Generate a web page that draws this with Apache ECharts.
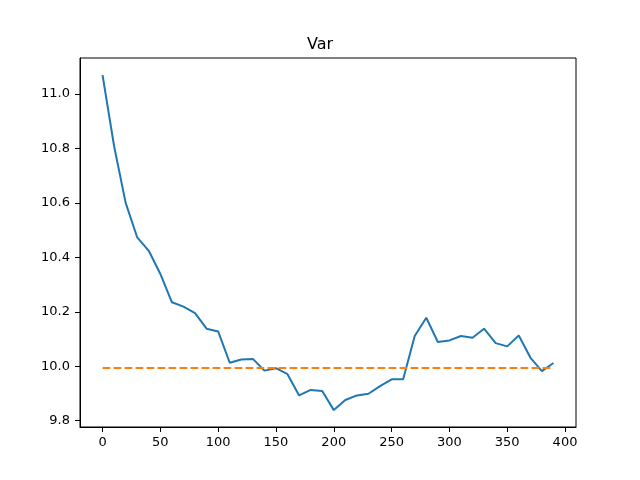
<!DOCTYPE html>
<html style="height: 100%">
<head>
<meta charset="utf-8">
<script src="https://cdn.jsdelivr.net/npm/echarts@6/dist/echarts.min.js"></script>
</head>
<body style="height: 100%; margin: 0; background: #fff">
<div id="container" style="width:640px;height:480px;"></div>
<script type="text/javascript">
// x positions (step of 10) and the variance values
var steps = [0, 10, 20, 30, 40, 50, 60, 70, 80, 90,
    100, 110, 120, 130, 140, 150, 160, 170, 180, 190,
    200, 210, 220, 230, 240, 250, 260, 270, 280, 290,
    300, 310, 320, 330, 340, 350, 360, 370, 380, 390];
var varValues = [11.069, 10.808, 10.600, 10.473, 10.424, 10.339, 10.235, 10.219, 10.195, 10.138,
    10.128, 10.013, 10.025, 10.027, 9.984, 9.993, 9.971, 9.893, 9.913, 9.909,
    9.839, 9.876, 9.893, 9.899, 9.927, 9.952, 9.952, 10.111, 10.178, 10.089,
    10.095, 10.111, 10.105, 10.138, 10.085, 10.073, 10.113, 10.032, 9.982, 10.012];
var refLevel = 9.994;
var xTicks = [0, 50, 100, 150, 200, 250, 300, 350, 400];
var yTicks = [9.8, 10.0, 10.2, 10.4, 10.6, 10.8, 11.0];

var lineData = steps.map(function (s, i) { return [s, varValues[i]]; });
var refData = steps.map(function (s) { return [s, refLevel]; });

var font = 'DejaVu Sans';
var myChart = echarts.init(document.getElementById('container'));
var option = {
    animation: false,
    backgroundColor: '#fff',
    title: {
        text: 'Var',
        left: 'center',
        top: 32,
        textStyle: { fontFamily: font, fontSize: 16, fontWeight: 'normal', color: '#000' }
    },
    grid: {
        left: 80, right: 64, top: 58, bottom: 53,
        show: true, borderColor: '#000', borderWidth: 1, backgroundColor: 'transparent'
    },
    xAxis: {
        type: 'value',
        min: -19.5,
        max: 409.5,
        splitLine: { show: false },
        axisLine: { onZero: false, lineStyle: { color: '#000' } },
        axisTick: { customValues: xTicks, length: 5, lineStyle: { color: '#000' } },
        axisLabel: {
            customValues: xTicks, margin: 9, color: '#000',
            fontFamily: font, fontSize: 13
        }
    },
    yAxis: {
        type: 'value',
        min: 9.777,
        max: 11.132,
        splitLine: { show: false },
        axisLine: { show: true, onZero: false, lineStyle: { color: '#000' } },
        axisTick: { show: true, customValues: yTicks, length: 5, lineStyle: { color: '#000' } },
        axisLabel: {
            customValues: yTicks, margin: 10, color: '#000',
            fontFamily: font, fontSize: 13,
            formatter: function (v) { return v.toFixed(1); }
        }
    },
    series: [
        {
            name: 'Var',
            type: 'line',
            data: lineData,
            symbol: 'none',
            lineStyle: { color: '#1f77b4', width: 2 }
        },
        {
            name: 'ref',
            type: 'line',
            data: refData,
            symbol: 'none',
            lineStyle: { color: '#ff7f0e', width: 2, type: [7.7, 3.3] }
        }
    ]
};
myChart.setOption(option, true);
</script>
</body>
</html>
